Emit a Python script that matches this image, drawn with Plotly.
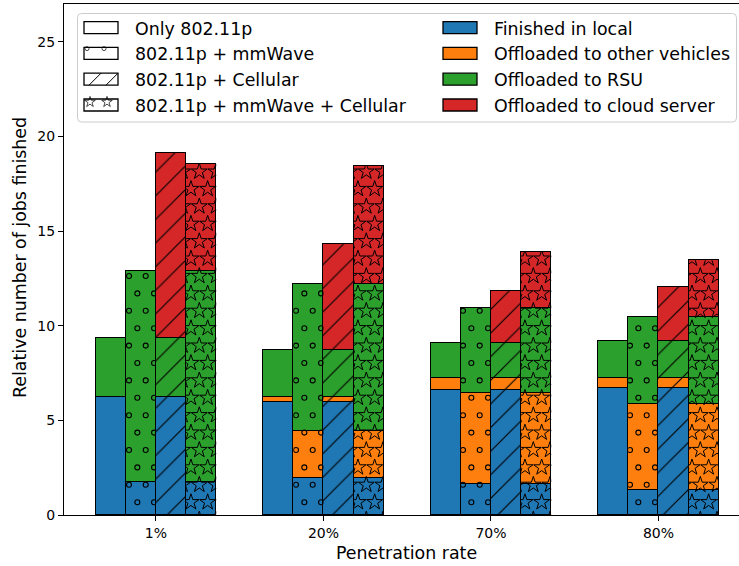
import math
import numpy as np
import plotly.graph_objects as go

# ---- data -------------------------------------------------------------
rates = ["1%", "20%", "70%", "80%"]
schemes = ["Only 802.11p", "802.11p + mmWave", "802.11p + Cellular",
           "802.11p + mmWave + Cellular"]
outcomes = ["Finished in local", "Offloaded to other vehicles",
            "Offloaded to RSU", "Offloaded to cloud server"]

only_local = [6.26, 5.96, 6.61, 6.72]
only_vehicle = [0.0, 0.25, 0.62, 0.51]
only_rsu = [3.09, 2.52, 1.85, 1.99]
only_cloud = [0.0, 0.0, 0.0, 0.0]

mmw_local = [1.76, 1.94, 1.66, 1.32]
mmw_vehicle = [0.0, 2.52, 4.81, 4.57]
mmw_rsu = [11.15, 7.73, 4.48, 4.55]
mmw_cloud = [0.0, 0.0, 0.0, 0.0]

cell_local = [6.26, 5.96, 6.61, 6.72]
cell_vehicle = [0.0, 0.25, 0.62, 0.51]
cell_rsu = [3.09, 2.52, 1.85, 1.99]
cell_cloud = [9.79, 5.61, 2.77, 2.81]

both_local = [1.76, 1.94, 1.66, 1.32]
both_vehicle = [0.0, 2.52, 4.81, 4.57]
both_rsu = [11.15, 7.73, 4.48, 4.55]
both_cloud = [5.64, 6.24, 2.95, 3.02]

stacks = [
    [only_local, only_vehicle, only_rsu, only_cloud],
    [mmw_local, mmw_vehicle, mmw_rsu, mmw_cloud],
    [cell_local, cell_vehicle, cell_rsu, cell_cloud],
    [both_local, both_vehicle, both_rsu, both_cloud],
]

# ---- geometry / style -------------------------------------------------
W, H = 739, 566
ML, MR, MT, MB = 64, 0, 4, 51
XR = (-0.549, 3.481)
YR = (0.0, 27.0)
PW, PH = W - ML - MR, H - MT - MB
PX_X = PW / (XR[1] - XR[0])
PX_Y = PH / (YR[1] - YR[0])

BAR_W = 0.18
OFFSETS = [-0.27, -0.09, 0.09, 0.27]
COLORS = ["#1f77b4", "#ff7f0e", "#2ca02c", "#d62728"]
FONT = "DejaVu Sans"
LABEL_SIZE = 17.4
EDGE = 1.5


def px_to_x(px):
    return XR[0] + (px - ML) / PX_X


def px_to_y(py):
    return YR[0] + (H - MB - py) / PX_Y


def paper_x(px):
    return (px - ML) / PW


def paper_y(py):
    return (H - MB - py) / PH


fig = go.Figure()

# stacked bars, one stack per scheme and penetration rate
for s, segs in enumerate(stacks):
    xs = [i + OFFSETS[s] for i in range(len(rates))]
    for c, vals in enumerate(segs):
        marker = dict(color=COLORS[c], line=dict(color="black", width=EDGE))
        if s == 2:
            marker["pattern"] = dict(shape="/", fgcolor="black",
                                     bgcolor=COLORS[c], size=16.7,
                                     solidity=0.07, fillmode="replace")
        fig.add_trace(go.Bar(x=xs, y=vals, width=BAR_W, marker=marker,
                             name=outcomes[c], showlegend=False,
                             hoverinfo="skip"))

layout_axes = {}

# ---- hatch glyphs (circles / stars), clipped to each bar -----------------
HATCH_DX = 16.7 / PX_X
HATCH_DY = 17.4 / PX_Y
axis_n = 3
for s, symbol, size, lw, shift in [(1, "circle-open", 5, 1.1, 0.0),
                                   (3, "star-open", 12, 1.0, 3.5)]:
    totals = np.sum(np.array(stacks[s]), axis=0)
    x0 = px_to_x(129 + shift)
    y0 = px_to_y(276)
    for i, top in enumerate(totals):
        left = i + OFFSETS[s] - BAR_W / 2
        right = left + BAR_W
        hx, hy = [], []
        k_lo = math.floor((0 - y0) / HATCH_DY) - 1
        k_hi = math.ceil((top - y0) / HATCH_DY) + 1
        for k in range(k_lo, k_hi + 1):
            y = y0 + k * HATCH_DY
            xoff = x0 + (0.5 if k % 2 else 0.0) * HATCH_DX
            j_lo = math.floor((left - xoff) / HATCH_DX) - 1
            j_hi = math.ceil((right - xoff) / HATCH_DX) + 1
            for j in range(j_lo, j_hi + 1):
                hx.append(xoff + j * HATCH_DX)
                hy.append(y)
        xa, ya = f"xaxis{axis_n}", f"yaxis{axis_n}"
        layout_axes[xa] = dict(
            domain=[(left - XR[0]) / (XR[1] - XR[0]),
                    (right - XR[0]) / (XR[1] - XR[0])],
            range=[left, right], visible=False, anchor=f"y{axis_n}",
            fixedrange=True)
        layout_axes[ya] = dict(
            domain=[0, top / YR[1]], range=[0, top], visible=False,
            anchor=f"x{axis_n}", fixedrange=True)
        fig.add_trace(go.Scatter(
            x=hx, y=hy, mode="markers", xaxis=f"x{axis_n}",
            yaxis=f"y{axis_n}", cliponaxis=True, hoverinfo="skip",
            showlegend=False,
            marker=dict(symbol=symbol, size=size, color="black",
                        line=dict(width=lw, color="black"))))
        axis_n += 1

# ---- legend, drawn in pixel coordinates on an overlay axis --------------
shapes = []
annotations = []
bx1, bx2, by1, by2, r = 77.5, 736.5, 13.5, 122.0, 4
shapes.append(dict(
    type="path", xref="x2", yref="y2",
    path=(f"M{bx1 + r},{by1} L{bx2 - r},{by1} Q{bx2},{by1} {bx2},{by1 + r} "
          f"L{bx2},{by2 - r} Q{bx2},{by2} {bx2 - r},{by2} L{bx1 + r},{by2} "
          f"Q{bx1},{by2} {bx1},{by2 - r} L{bx1},{by1 + r} Q{bx1},{by1} "
          f"{bx1 + r},{by1} Z"),
    fillcolor="rgba(255,255,255,0.8)", line=dict(color="#cccccc", width=1),
    layer="below"))

ROW0, ROW_STEP = 27.6, 25.8
HW, HH = 34, 12
LX, RX = 84, 443
TEXT_PAD = 15
leg_mx, leg_my, leg_sym, leg_size = [], [], [], []
for k in range(4):
    cy = ROW0 + k * ROW_STEP
    # scheme handles (white with hatch)
    shapes.append(dict(type="rect", xref="x2", yref="y2", x0=LX, x1=LX + HW,
                       y0=cy - HH / 2, y1=cy + HH / 2, fillcolor="white",
                       line=dict(color="black", width=1.3), layer="below"))
    annotations.append(dict(x=LX + HW + TEXT_PAD, y=cy + 1, xref="x2",
                            yref="y2", text=schemes[k], showarrow=False,
                            xanchor="left", yanchor="middle",
                            font=dict(family=FONT, size=LABEL_SIZE,
                                      color="black")))
    # outcome handles (colour)
    shapes.append(dict(type="rect", xref="x2", yref="y2", x0=RX, x1=RX + HW,
                       y0=cy - HH / 2, y1=cy + HH / 2, fillcolor=COLORS[k],
                       line=dict(color="black", width=1.3), layer="below"))
    annotations.append(dict(x=RX + HW + TEXT_PAD, y=cy + 1, xref="x2",
                            yref="y2", text=outcomes[k], showarrow=False,
                            xanchor="left", yanchor="middle",
                            font=dict(family=FONT, size=LABEL_SIZE,
                                      color="black")))
    top = cy - HH / 2
    if k == 1:
        for hxp in (LX + 3, LX + 20):
            leg_mx.append(hxp); leg_my.append(top + 1.2)
            leg_sym.append("circle-open"); leg_size.append(4)
    if k == 2:
        for xb in (LX + 5, LX + 22):
            shapes.append(dict(type="line", xref="x2", yref="y2",
                               x0=xb, y0=cy + HH / 2, x1=xb + HH,
                               y1=cy - HH / 2,
                               line=dict(color="black", width=1),
                               layer="above"))
    if k == 3:
        for hxp in (LX + 6, LX + 23):
            leg_mx.append(hxp); leg_my.append(top + 3)
            leg_sym.append("star-open"); leg_size.append(8)

fig.add_trace(go.Scatter(
    x=leg_mx, y=leg_my, mode="markers", xaxis="x2", yaxis="y2",
    cliponaxis=False, hoverinfo="skip", showlegend=False,
    marker=dict(symbol=leg_sym, size=leg_size, color="black",
                line=dict(width=1, color="black"))))

# axis titles
annotations.append(dict(x=paper_x(406.5), y=paper_y(553), xref="paper",
                        yref="paper", text="Penetration rate",
                        showarrow=False, xanchor="center", yanchor="middle",
                        font=dict(family=FONT, size=LABEL_SIZE,
                                  color="black")))
annotations.append(dict(x=paper_x(20), y=paper_y(258), xref="paper",
                        yref="paper", text="Relative number of jobs finished",
                        showarrow=False, textangle=-90,
                        xanchor="center", yanchor="middle",
                        font=dict(family=FONT, size=LABEL_SIZE,
                                  color="black")))

fig.update_layout(
    width=W, height=H,
    margin=dict(l=ML, r=MR, t=MT, b=MB, pad=0),
    barmode="stack", bargap=0,
    paper_bgcolor="white", plot_bgcolor="rgba(0,0,0,0)",
    showlegend=False,
    font=dict(family=FONT, size=14, color="black"),
    xaxis=dict(range=list(XR), tickvals=list(range(len(rates))),
               ticktext=rates, ticks="outside", ticklen=5, tickwidth=1.3,
               tickcolor="black", showline=True, linecolor="black",
               linewidth=1.3, mirror=True, showgrid=False, zeroline=False,
               tickfont=dict(family=FONT, size=14, color="black"),
               fixedrange=True),
    yaxis=dict(range=list(YR), tickvals=[0, 5, 10, 15, 20, 25],
               ticks="outside", ticklen=5, tickwidth=1.3, tickcolor="black",
               showline=True, linecolor="black", linewidth=1.3,
               mirror=False, showgrid=False, zeroline=False,
               tickfont=dict(family=FONT, size=14, color="black"),
               fixedrange=True),
    xaxis2=dict(overlaying="x", range=[ML, W - MR], visible=False,
                anchor="y2", fixedrange=True),
    yaxis2=dict(overlaying="y", range=[H - MB, MT], visible=False,
                anchor="x2", fixedrange=True),
    shapes=shapes,
    annotations=annotations,
    **layout_axes,
)

fig.write_html("out.html")
